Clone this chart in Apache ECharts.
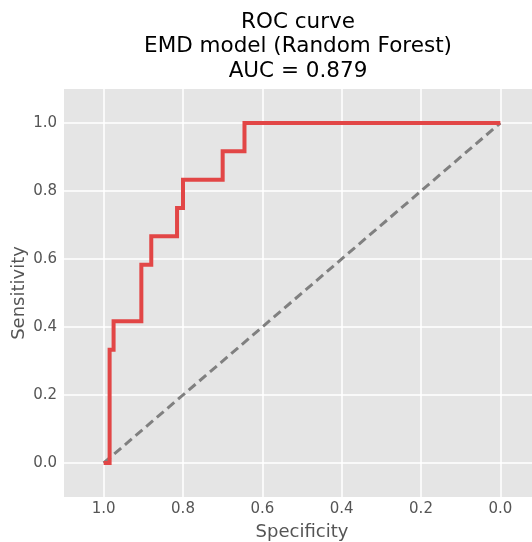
<!doctype html>
<html>
<head>
    <meta charset="utf-8">
    <title>ROC curve</title>
    <script src="https://cdn.jsdelivr.net/npm/echarts@6/dist/echarts.min.js"></script>
    <style>
        html, body { margin: 0; padding: 0; background: #fff; }
        #roc { width: 532px; height: 542px; }
    </style>
</head>
<body>
<div id="roc"></div>
<script type="text/javascript">

    // ROC coordinates (specificity, sensitivity)
    var specificity = [1.0, 0.985, 0.985, 0.975, 0.975, 0.905, 0.905, 0.88, 0.88, 0.815, 0.815, 0.80, 0.80, 0.70, 0.70, 0.645, 0.645, 0.0];
    var sensitivity = [0.0, 0.0, 0.333, 0.333, 0.417, 0.417, 0.583, 0.583, 0.667, 0.667, 0.75, 0.75, 0.833, 0.833, 0.917, 0.917, 1.0, 1.0];
    // chance line
    var chanceSpec = [1.0, 0.0];
    var chanceSens = [0.0, 1.0];
    var tickValues = [0.0, 0.2, 0.4, 0.6, 0.8, 1.0];
    var titleLines = ['ROC curve', 'EMD model (Random Forest)', 'AUC = 0.879'];

    function pairs(xs, ys) {
        var out = [];
        for (var i = 0; i < xs.length; i++) out.push([xs[i], ys[i]]);
        return out;
    }

    var FONT = 'DejaVu Sans';
    var myChart = echarts.init(document.getElementById('roc'), null, {renderer: 'canvas'});

    // plot box runs past the right edge of the picture, like the original crop
    var gridLeft = 64, gridTop = 89, gridW = 476, gridH = 408;

    var axisCommon = {
        type: 'value',
        min: -0.1,
        max: 1.1,
        axisLine: {show: false},
        axisTick: {show: false, customValues: tickValues},
        axisLabel: {
            customValues: tickValues,
            color: '#555555',
            fontFamily: FONT,
            fontSize: 15,
            formatter: function (v) { return v.toFixed(1); }
        },
        splitLine: {show: true, lineStyle: {color: '#ffffff', width: 1.5}},
        nameLocation: 'middle',
        nameMoveOverlap: false,
        nameTextStyle: {color: '#555555', fontFamily: FONT, fontSize: 18}
    };

    var option = {
        animation: false,
        backgroundColor: '#ffffff',
        grid: {
            left: gridLeft, top: gridTop, width: gridW, height: gridH,
            outerBoundsMode: 'none',
            containLabel: false,
            show: true, backgroundColor: '#e5e5e5', borderWidth: 0
        },
        xAxis: echarts.util.merge({
            inverse: true,
            name: 'Specificity',
            nameGap: 26,
            axisLabel: {margin: 5}
        }, axisCommon),
        yAxis: echarts.util.merge({
            name: 'Sensitivity',
            nameGap: 36,
            axisLabel: {margin: 7}
        }, axisCommon),
        graphic: titleLines.map(function (t, i) {
            return {
                type: 'text',
                x: gridLeft + gridW / 2 - 4,
                y: 22 + i * 24.5,
                style: {
                    text: t,
                    fill: '#000000',
                    font: '21.5px "' + FONT + '"',
                    textAlign: 'center',
                    textVerticalAlign: 'middle'
                }
            };
        }),
        series: [
            {
                name: 'chance',
                type: 'line',
                data: pairs(chanceSpec, chanceSens),
                symbol: 'none',
                lineStyle: {color: '#808080', width: 3, type: [9, 5]},
                z: 2
            },
            {
                name: 'ROC',
                type: 'line',
                data: pairs(specificity, sensitivity),
                symbol: 'none',
                lineStyle: {color: '#e24646', width: 4, join: 'miter'},
                z: 3
            }
        ]
    };

    myChart.setOption(option);

</script>
</body>
</html>
